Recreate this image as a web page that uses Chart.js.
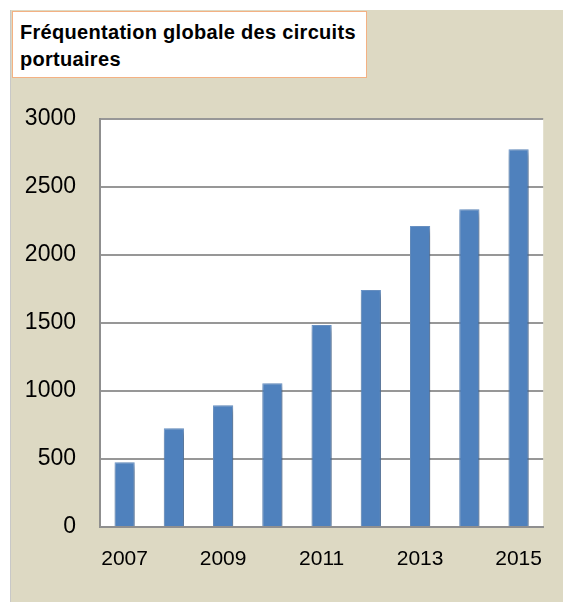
<!DOCTYPE html>
<html>
<head>
<meta charset="utf-8">
<script src="https://cdn.jsdelivr.net/npm/chart.js@4"></script>
<style>
  html, body { margin: 0; padding: 0; background: #fff; }
  #wrap { position: relative; width: 563px; height: 602px; }
  #fond { position: absolute; left: 10px; top: 10px; right: 0; bottom: 0; background: #ddd9c3; border-left: 1px solid #c8c8c8; }
  #titre {
    position: absolute; left: 12px; top: 11px; width: 355px; height: 67px;
    background: #fff; border: 1px solid #f4b183;
    font: bold 20px "Liberation Sans", Arial, sans-serif; color: #000;
    letter-spacing: 0.3px;
    line-height: 27px; padding: 7px 0 0 7px; box-sizing: border-box;
  }
  canvas { position: absolute; left: 0; top: 0; }
</style>
</head>
<body>
<div id="wrap">
  <div id="fond"></div>
  <canvas id="graphique" width="563" height="602"></canvas>
  <div id="titre">Fréquentation globale des circuits<br>portuaires</div>
</div>
<script>
// Données
const annees = ['2007', '2008', '2009', '2010', '2011', '2012', '2013', '2014', '2015'];
const frequentation = [476, 726, 895, 1057, 1485, 1743, 2213, 2336, 2778];
const graduationsY = [0, 500, 1000, 1500, 2000, 2500, 3000];

// Ombre portée des barres
const ombreBarres = {
  id: 'ombreBarres',
  beforeDatasetsDraw(chart) {
    const ctx = chart.ctx;
    ctx.save();
    ctx.shadowColor = 'rgba(0,0,0,0.4)';
    ctx.shadowBlur = 7;
    ctx.shadowOffsetX = 2;
    ctx.shadowOffsetY = 3;
  },
  afterDatasetsDraw(chart) {
    chart.ctx.restore();
  }
};

// Fond blanc de la zone de tracé
const fondZone = {
  id: 'fondZone',
  beforeDraw(chart) {
    const { ctx, chartArea: a } = chart;
    ctx.save();
    ctx.fillStyle = '#fff';
    ctx.fillRect(a.left, a.top, a.right - a.left, a.bottom - a.top);
    ctx.restore();
  }
};

new Chart(document.getElementById('graphique'), {
  type: 'bar',
  data: {
    labels: annees,
    datasets: [{
      data: frequentation,
      backgroundColor: '#4f81bd',
      borderColor: '#6e98cc',
      borderWidth: 1,
      barPercentage: 0.41,
      categoryPercentage: 1
    }]
  },
  options: {
    responsive: false,
    animation: false,
    layout: { padding: { left: 0, right: 19, top: 119, bottom: 0 } },
    plugins: { legend: { display: false }, tooltip: { enabled: false } },
    scales: {
      x: {
        grid: { display: false, drawTicks: false },
        border: { color: '#8f8f8f', width: 2 },
        ticks: {
          autoSkip: false,
          maxRotation: 0,
          padding: 20,
          color: '#000',
          font: { family: '"Liberation Sans", Arial, sans-serif', size: 21 },
          callback: (v, i) => (i % 2 === 0 ? annees[i] : '')
        },
        afterFit: s => { s.height = 75; }
      },
      y: {
        min: 0,
        max: 3000,
        afterBuildTicks: s => { s.ticks = graduationsY.map(v => ({ value: v })); },
        grid: { color: '#979797', lineWidth: 2, drawTicks: false },
        border: { color: '#8f8f8f', width: 2 },
        ticks: {
          padding: 24,
          color: '#000',
          font: { family: '"Liberation Sans", Arial, sans-serif', size: 23 },
          callback: v => String(v)
        },
        afterFit: s => { s.width = 100; }
      }
    }
  },
  plugins: [fondZone, ombreBarres]
});
</script>
</body>
</html>
